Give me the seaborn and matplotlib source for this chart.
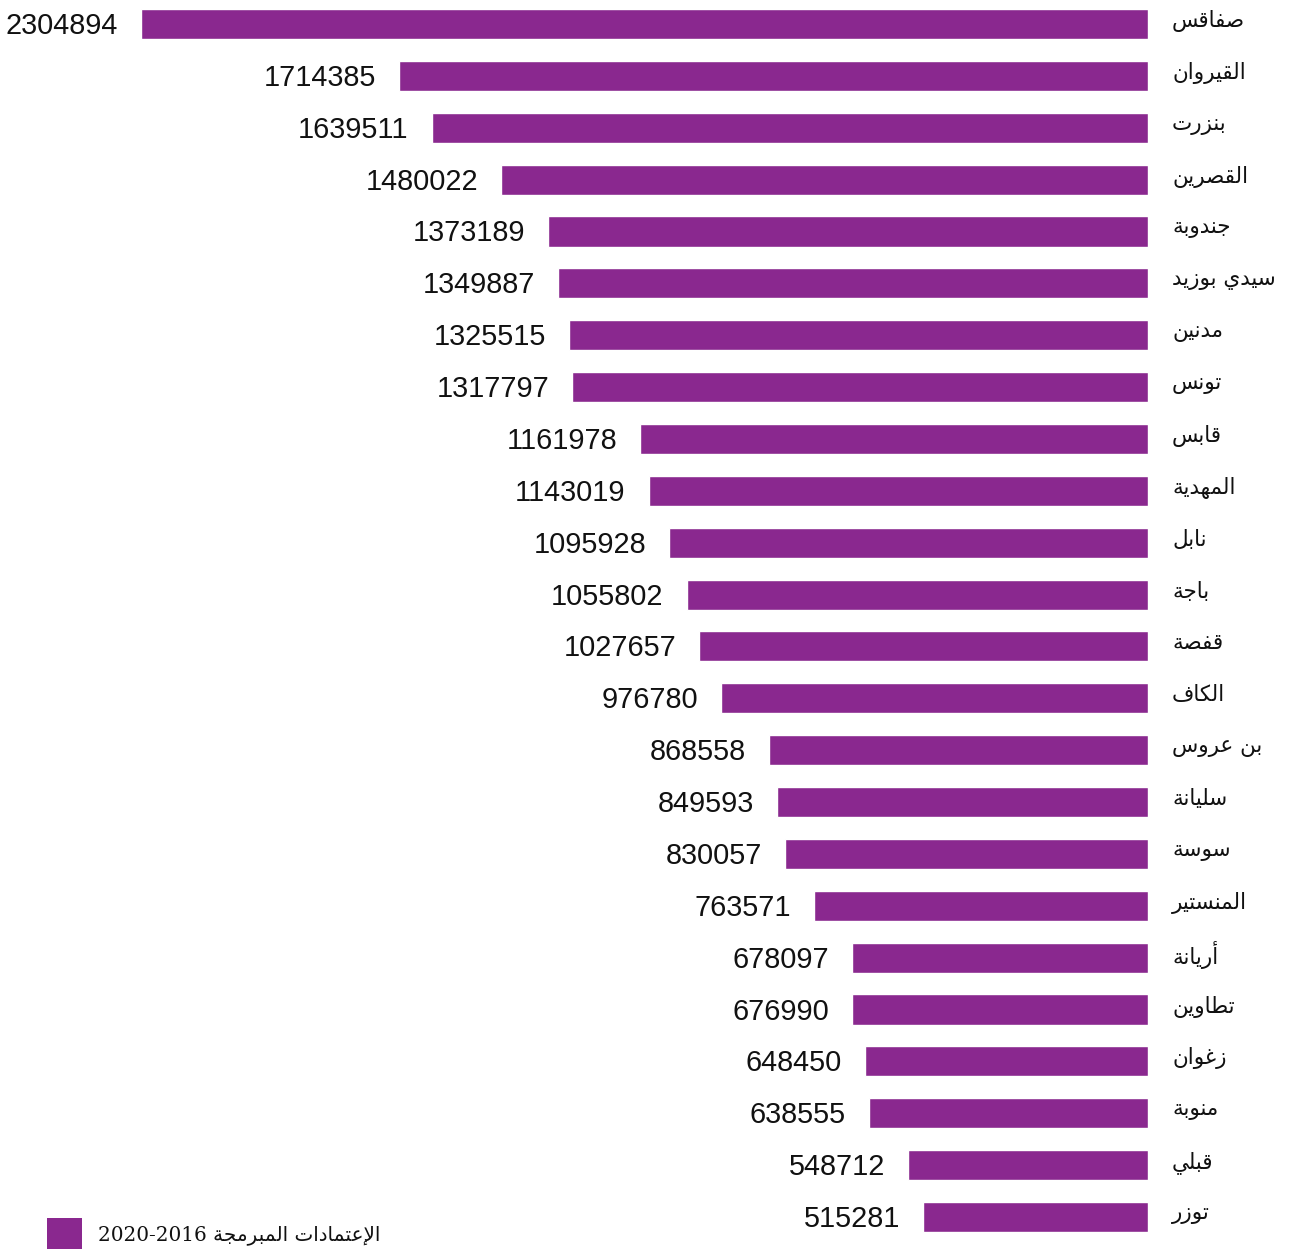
import matplotlib
matplotlib.use("Agg")
import matplotlib.pyplot as plt
import seaborn as sns
import pandas as pd
from matplotlib.patches import Rectangle

# ---------------- data ----------------
governorates = ["صفاقس", "القيروان", "بنزرت", "القصرين", "جندوبة", "سيدي بوزيد",
                "مدنين", "تونس", "قابس", "المهدية", "نابل", "باجة", "قفصة", "الكاف",
                "بن عروس", "سليانة", "سوسة", "المنستير", "أريانة", "تطاوين", "زغوان",
                "منوبة", "قبلي", "توزر"]
values = [2304894, 1714385, 1639511, 1480022, 1373189, 1349887, 1325515, 1317797,
          1161978, 1143019, 1095928, 1055802, 1027657, 976780, 868558, 849593,
          830057, 763571, 678097, 676990, 648450, 638555, 548712, 515281]
legend_label = "الإعتمادات المبرمجة"
legend_years = "2020-2016"

BAR_COLOR = "#8a288f"

# ---------------- minimal Arabic shaping (presentation forms) ----------------
FORMS = {  # isolated, final, initial, medial
    "ء": (0xFE80, None, None, None),
    "آ": (0xFE81, 0xFE82, None, None),
    "أ": (0xFE83, 0xFE84, None, None),
    "ؤ": (0xFE85, 0xFE86, None, None),
    "إ": (0xFE87, 0xFE88, None, None),
    "ئ": (0xFE89, 0xFE8A, 0xFE8B, 0xFE8C),
    "ا": (0xFE8D, 0xFE8E, None, None),
    "ب": (0xFE8F, 0xFE90, 0xFE91, 0xFE92),
    "ة": (0xFE93, 0xFE94, None, None),
    "ت": (0xFE95, 0xFE96, 0xFE97, 0xFE98),
    "ث": (0xFE99, 0xFE9A, 0xFE9B, 0xFE9C),
    "ج": (0xFE9D, 0xFE9E, 0xFE9F, 0xFEA0),
    "ح": (0xFEA1, 0xFEA2, 0xFEA3, 0xFEA4),
    "خ": (0xFEA5, 0xFEA6, 0xFEA7, 0xFEA8),
    "د": (0xFEA9, 0xFEAA, None, None),
    "ذ": (0xFEAB, 0xFEAC, None, None),
    "ر": (0xFEAD, 0xFEAE, None, None),
    "ز": (0xFEAF, 0xFEB0, None, None),
    "س": (0xFEB1, 0xFEB2, 0xFEB3, 0xFEB4),
    "ش": (0xFEB5, 0xFEB6, 0xFEB7, 0xFEB8),
    "ص": (0xFEB9, 0xFEBA, 0xFEBB, 0xFEBC),
    "ض": (0xFEBD, 0xFEBE, 0xFEBF, 0xFEC0),
    "ط": (0xFEC1, 0xFEC2, 0xFEC3, 0xFEC4),
    "ظ": (0xFEC5, 0xFEC6, 0xFEC7, 0xFEC8),
    "ع": (0xFEC9, 0xFECA, 0xFECB, 0xFECC),
    "غ": (0xFECD, 0xFECE, 0xFECF, 0xFED0),
    "ف": (0xFED1, 0xFED2, 0xFED3, 0xFED4),
    "ق": (0xFED5, 0xFED6, 0xFED7, 0xFED8),
    "ك": (0xFED9, 0xFEDA, 0xFEDB, 0xFEDC),
    "ل": (0xFEDD, 0xFEDE, 0xFEDF, 0xFEE0),
    "م": (0xFEE1, 0xFEE2, 0xFEE3, 0xFEE4),
    "ن": (0xFEE5, 0xFEE6, 0xFEE7, 0xFEE8),
    "ه": (0xFEE9, 0xFEEA, 0xFEEB, 0xFEEC),
    "و": (0xFEED, 0xFEEE, None, None),
    "ى": (0xFEEF, 0xFEF0, None, None),
    "ي": (0xFEF1, 0xFEF2, 0xFEF3, 0xFEF4),
}
LAMALEF = {"آ": (0xFEF5, 0xFEF6), "أ": (0xFEF7, 0xFEF8),
           "إ": (0xFEF9, 0xFEFA), "ا": (0xFEFB, 0xFEFC)}


def joins_next(ch):
    f = FORMS.get(ch)
    return f is not None and f[2] is not None


def joins_prev(ch):
    f = FORMS.get(ch)
    return f is not None and f[1] is not None


def shape(text):
    chars = list(text)
    out = []
    i = 0
    n = len(chars)
    while i < n:
        c = chars[i]
        prev = chars[i - 1] if i > 0 else None
        connect_prev = prev is not None and joins_next(prev) and joins_prev(c)
        if c == "ل" and i + 1 < n and chars[i + 1] in LAMALEF:
            iso, fin = LAMALEF[chars[i + 1]]
            out.append(chr(fin if connect_prev else iso))
            i += 2
            continue
        nxt = chars[i + 1] if i + 1 < n else None
        connect_next = nxt is not None and joins_next(c) and joins_prev(nxt)
        f = FORMS.get(c)
        if f is None:
            out.append(c)
        elif connect_prev and connect_next:
            out.append(chr(f[3]))
        elif connect_prev:
            out.append(chr(f[1]))
        elif connect_next:
            out.append(chr(f[2]))
        else:
            out.append(chr(f[0]))
        i += 1
    return "".join(reversed(out))


# ---------------- plot ----------------
sns.set_theme(style="white")
plt.rcParams["font.family"] = ["Liberation Sans", "DejaVu Sans"]

W, H = 1294, 1250
fig = plt.figure(figsize=(W / 100, H / 100), dpi=100)

right_px = 1148
left_px = 141
ax = fig.add_axes([0, 0, right_px / W, 1])

df = pd.DataFrame({"gov": [shape(g) for g in governorates], "value": values})
sns.barplot(data=df, x="value", y="gov", orient="h", color=BAR_COLOR,
            saturation=1, width=0.58, ax=ax)

xmax = max(values) * right_px / (right_px - left_px)
ax.set_xlim(xmax, 0)
spacing = (1217 - 24) / 23
ax.set_ylim((H - 24) / spacing, -24 / spacing)

for s in ax.spines.values():
    s.set_visible(False)
ax.set_xticks([])
ax.set_xlabel("")
ax.set_ylabel("")
ax.set_yticklabels([])
ax.tick_params(axis="y", length=0)

for i, g in enumerate(df["gov"]):
    ax.annotate(g, xy=(0, i), xytext=(24, 3), textcoords="offset pixels",
                ha="left", va="center", fontsize=15.5, color="#111111",
                fontfamily="DejaVu Sans", annotation_clip=False)

for i, v in enumerate(values):
    ax.annotate(str(v), xy=(v, i), xytext=(-23, -2), textcoords="offset pixels",
                ha="right", va="center", fontsize=20.8, color="#111111",
                fontfamily="Liberation Sans", annotation_clip=False)

# legend
fig.patches.append(Rectangle((47 / W, 1 - 1249 / H), 35 / W, 31 / H,
                             transform=fig.transFigure, facecolor=BAR_COLOR,
                             edgecolor="none"))
fig.text(98 / W, 1 - 1235 / H, legend_years + " " + shape(legend_label),
         ha="left", va="center", fontsize=14.4, color="#111111",
         fontfamily=["DejaVu Serif", "DejaVu Sans"])

fig.savefig("out.png", dpi=100, facecolor="white")
